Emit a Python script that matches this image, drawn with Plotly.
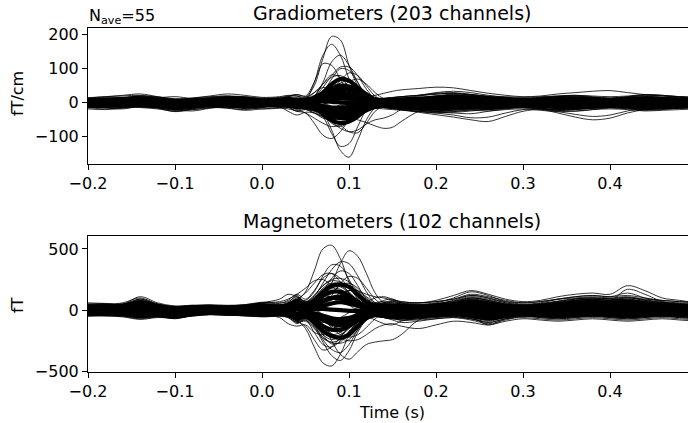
import plotly.graph_objects as go

# Time samples (s): coarse baseline, fine burst, coarse late
T = [-0.20, -0.18, -0.16, -0.14, -0.12, -0.10, -0.08, -0.06, -0.04, -0.02, 0.00, 0.02,
     0.03, 0.04, 0.05, 0.06, 0.07, 0.08, 0.09, 0.10, 0.11, 0.12, 0.13, 0.14, 0.15, 0.16,
     0.18, 0.20, 0.22, 0.24, 0.26, 0.28, 0.30, 0.32, 0.34, 0.36, 0.38, 0.40, 0.42, 0.44, 0.46, 0.48, 0.50]

X_TICKS = [-0.2, -0.1, 0.0, 0.1, 0.2, 0.3, 0.4]
X_TICKTEXT = ["\u22120.2", "\u22120.1", "0.0", "0.1", "0.2", "0.3", "0.4"]
GRAD_TICKS = [-100, 0, 100, 200]
GRAD_TICKTEXT = ["\u2212100", "0", "100", "200"]
MAG_TICKS = [-500, 0, 500]
MAG_TICKTEXT = ["\u2212500", "0", "500"]

# Gradiometer channels (fT/cm), representative traces
g01 = [8,12,15,18,10,5,8,12,6,2,4,10, 12,8,15,30,45,40,25,10,2,-2,0,4,6,8, 12,18,20,15,10,8,6,10,12,8,5,6,10,8,5,6,4]
g02 = [-6,-10,-8,-12,-15,-22,-14,-8,-10,-14,-6,-4, -8,-15,-10,-20,-35,-42,-30,-15,-5,0,-4,-8,-10,-12, -15,-18,-12,-10,-14,-8,-5,-10,-14,-12,-8,-6,-10,-8,-12,-10,-8]
g03 = [2,5,8,12,6,0,-2,4,8,5,0,3, 6,4,2,10,20,28,22,12,6,2,0,-2,0,2, 6,10,14,12,6,2,0,3,6,8,4,2,5,8,6,3,2]
g04 = [-2,-4,0,4,-5,-12,-8,-2,0,-6,-3,0, -4,-10,-6,-8,-15,-25,-28,-20,-8,-2,0,-3,-6,-4, -6,-10,-14,-18,-12,-6,-2,-5,-8,-10,-6,-3,-5,-8,-6,-4,-2]
g05 = [12,15,10,6,14,18,12,8,15,18,10,6, 4,2,8,20,35,50,55,40,20,8,2,4,8,12, 20,25,28,22,15,12,10,14,18,15,10,12,18,20,15,12,10]
g06 = [-12,-15,-18,-10,-8,-14,-20,-15,-12,-8,-10,-14, -18,-22,-15,-25,-40,-55,-60,-48,-30,-15,-8,-10,-14,-16, -20,-25,-28,-24,-20,-15,-12,-16,-20,-18,-14,-10,-14,-18,-16,-12,-10]
g07 = [5,2,-2,0,6,10,6,0,-4,0,6,8, 10,14,12,6,0,-10,-18,-22,-15,-5,2,6,8,6, 4,2,0,-4,-2,2,6,4,0,-2,2,6,4,0,2,4,6]
g08 = [-4,0,4,8,2,-4,-2,2,4,0,-4,-8, -12,-16,-8,4,15,22,18,10,4,0,-2,0,2,0, -2,-4,-2,2,4,0,-4,-2,2,4,0,-2,2,4,2,0,-2]
g09 = [15,18,20,22,16,10,12,16,20,14,8,12, 16,10,6,12,25,35,40,35,25,15,10,12,15,18, 22,28,30,25,18,14,12,15,18,20,16,12,16,22,20,16,12]
g10 = [-15,-12,-10,-14,-18,-25,-18,-12,-15,-20,-14,-10, -12,-25,-20,-30,-45,-50,-45,-35,-22,-12,-10,-14,-18,-20, -25,-28,-30,-32,-25,-18,-14,-18,-22,-25,-20,-15,-18,-22,-20,-16,-14]
g11 = [0,3,6,10,4,-2,0,5,10,8,2,0, -2,-4,0,8,14,10,4,-4,-8,-6,-2,2,4,2, 0,4,8,6,2,0,-2,0,4,6,2,0,2,4,2,0,0]
g12 = [8,6,4,8,12,6,2,6,10,14,8,4, 2,0,-4,-10,-18,-15,-6,4,10,8,4,2,4,6, 8,10,12,10,8,6,4,6,8,10,8,6,8,10,8,6,4]
g13 = [-8,-5,-2,2,-4,-10,-12,-6,-2,-4,-8,-6, -4,-2,-6,-14,-25,-32,-25,-12,-4,0,-2,-4,-6,-8, -10,-12,-8,-6,-10,-12,-8,-6,-10,-14,-12,-8,-6,-8,-10,-8,-6]
g14 = [4,8,10,14,8,2,4,10,14,10,4,2, 0,4,10,22,30,25,12,2,-2,0,2,4,6,8, 10,12,16,14,10,8,6,8,10,12,10,8,10,12,10,8,6]
g15 = [-10,-8,-6,-8,-12,-18,-15,-10,-8,-12,-10,-8, -6,-4,-10,-20,-28,-22,-10,-2,2,-2,-6,-10,-12,-14, -18,-22,-25,-20,-16,-12,-10,-12,-16,-18,-14,-10,-12,-16,-14,-12,-10]
g16 = [10,8,12,16,12,8,10,14,18,16,12,14, 18,20,14,10,20,30,36,30,20,12,8,10,12,14, 16,20,24,22,18,15,12,14,18,20,16,14,16,18,16,14,12]
g17 = [-2,-6,-8,-4,-8,-14,-10,-4,-6,-10,-6,-2, 0,-4,-8,-16,-10,8,20,25,18,8,2,0,-2,-4, -6,-8,-6,-4,-6,-8,-6,-4,-6,-8,-6,-4,-6,-8,-6,-4,-2]
g18 = [6,10,14,20,14,6,8,12,16,12,6,8, 10,6,4,2,-6,-15,-20,-15,-8,-2,2,4,6,8, 10,14,18,16,12,10,8,10,12,14,12,10,12,14,12,10,8]
g19 = [-14,-18,-14,-10,-14,-20,-24,-16,-10,-14,-18,-16, -14,-10,-18,-30,-38,-35,-25,-14,-8,-6,-10,-14,-16,-18, -22,-26,-22,-18,-20,-16,-14,-18,-22,-20,-16,-14,-16,-20,-18,-16,-14]
g20 = [12,14,16,20,18,12,14,18,20,18,14,16, 20,24,18,12,6,2,8,16,20,16,12,14,16,18, 22,26,28,24,20,18,16,18,20,22,20,18,20,24,22,18,16]
g21 = [0,-2,-4,-2,2,0,-4,-6,-2,2,0,-2, -4,-8,-4,6,12,18,14,6,0,-4,-4,-2,0,-2, -4,-2,0,2,0,-2,-4,-2,0,2,0,-2,0,2,0,-2,0]
g22 = [-18,-20,-16,-12,-16,-26,-20,-14,-16,-22,-18,-14, -12,-16,-20,-24,-30,-34,-30,-22,-16,-14,-16,-18,-20,-22, -26,-30,-26,-22,-24,-20,-18,-22,-26,-24,-20,-18,-20,-24,-22,-20,-18]
g23 = [14,18,22,26,18,10,14,20,26,22,16,18, 22,20,12,30,55,75,80,65,40,20,10,12,15,18, 22,30,34,30,22,16,14,16,20,22,18,14,18,24,22,18,14]
g24 = [-6,-8,-10,-12,-10,-16,-12,-8,-10,-14,-10,-8, -10,-20,-30,-45,-60,-70,-65,-50,-30,-15,-8,-6,-8,-10, -12,-15,-12,-10,-12,-10,-8,-10,-12,-14,-12,-10,-12,-14,-12,-10,-8]
g25 = [4,6,8,12,8,2,4,8,12,10,6,8, 10,12,15,50,130,195,185,110,50,15,2,-2,2,6, 10,14,16,12,8,6,4,6,8,10,8,6,8,10,8,6,4]
g26 = [-2,0,4,8,4,-2,0,4,6,2,0,4, 8,14,10,60,140,172,140,70,20,0,-6,-4,0,2, 4,6,8,6,4,2,0,2,4,6,4,2,4,6,4,2,0]
g27 = [6,8,10,14,10,4,6,10,14,12,8,10, 12,10,8,20,60,120,140,110,60,20,8,6,8,10, 14,18,22,20,14,10,8,10,14,16,12,10,12,16,14,12,10]
g28 = [2,4,6,10,6,0,2,6,10,8,4,6, 18,24,20,60,115,110,70,30,10,2,0,2,4,6, 8,10,12,10,6,4,2,4,6,8,6,4,6,8,6,4,2]
g29 = [10,12,14,16,12,6,8,12,16,14,10,12, 14,12,10,14,30,70,100,95,60,20,6,4,6,8, 12,16,20,18,12,8,6,8,12,14,10,8,10,14,12,10,8]
g30 = [-4,-2,2,6,2,-4,-2,2,4,0,-2,0, 2,4,6,20,55,82,75,45,15,0,-4,-6,-4,-2, 0,2,4,2,0,-2,-4,-2,0,2,0,-2,0,2,0,-2,-4]
g31 = [8,10,12,14,10,4,6,10,12,10,6,8, 10,8,6,10,20,40,58,65,50,25,10,6,8,10, 14,20,26,24,18,12,10,12,16,18,14,12,14,18,16,14,12]
g32 = [10,12,14,18,14,8,10,14,18,16,12,14, 16,14,12,18,30,45,50,40,28,20,22,28,34,38, 42,46,44,36,28,22,18,20,26,30,34,36,30,24,20,18,16]
g33 = [-6,-8,-10,-6,-10,-16,-12,-6,-8,-12,-8,-6, -4,-8,-4,-10,-30,-80,-140,-160,-110,-50,-15,-6,-8,-10, -12,-14,-12,-10,-12,-10,-8,-10,-12,-14,-12,-10,-12,-14,-12,-10,-8]
g34 = [2,0,-2,2,-4,-10,-6,0,-2,-6,-2,0, -2,-6,-4,-15,-40,-90,-128,-120,-70,-20,0,2,0,-2, -4,-6,-4,-2,-4,-2,0,-2,-4,-6,-4,-2,-4,-6,-4,-2,0]
g35 = [-10,-12,-14,-10,-14,-22,-16,-10,-12,-16,-12,-10, -14,-25,-30,-60,-95,-105,-85,-50,-25,-14,-10,-12,-14,-16, -20,-24,-20,-16,-18,-14,-12,-16,-20,-18,-14,-12,-14,-18,-16,-14,-12]
g36 = [-4,-6,-8,-4,-8,-14,-10,-4,-6,-10,-6,-4, -6,-10,-8,-15,-22,-25,-32,-42,-50,-58,-68,-75,-72,-55, -25,-14,-10,-8,-10,-8,-6,-8,-10,-12,-10,-8,-10,-12,-10,-8,-6]
g37 = [0,-2,-4,0,-4,-10,-8,-2,-4,-8,-4,-2, -6,-12,-8,-15,-30,-55,-75,-85,-80,-62,-50,-45,-35,-20, -8,-4,-2,0,-2,0,2,0,-2,-4,-2,0,-2,-4,-2,0,2]
g38 = [-8,-10,-12,-8,-12,-20,-14,-8,-10,-14,-10,-12, -25,-36,-28,-30,-42,-50,-40,-25,-15,-10,-12,-14,-16,-18, -22,-25,-22,-18,-20,-16,-14,-18,-22,-20,-16,-14,-16,-20,-18,-16,-14]
g39 = [-10,-12,-10,-8,-12,-18,-14,-10,-12,-16,-12,-10, -12,-14,-10,-8,-5,10,25,30,20,5,-5,-10,-15,-20, -28,-35,-42,-50,-55,-40,-25,-20,-30,-42,-50,-45,-30,-20,-16,-14,-12]
g40 = [-6,-8,-6,-4,-8,-14,-10,-6,-8,-12,-8,-6, -8,-10,-12,-20,-35,-45,-40,-30,-20,-12,-10,-12,-16,-20, -25,-30,-36,-44,-42,-30,-20,-18,-26,-34,-40,-36,-24,-16,-12,-10,-8]
g41 = [6,8,10,12,8,2,4,8,10,8,4,6, 8,6,4,6,15,35,65,88,80,50,20,8,6,8, 10,14,18,16,12,8,6,8,10,12,10,8,10,12,10,8,6]
g42 = [-2,0,2,6,2,-4,-2,2,4,2,0,2, 4,6,10,20,45,80,105,105,80,40,12,2,0,0, 2,4,6,4,2,0,-2,0,2,4,2,0,2,4,2,0,-2]
g43 = [-4,-6,-8,-4,-8,-14,-10,-4,-6,-10,-6,-4, -6,-8,-6,-10,-20,-40,-65,-85,-88,-60,-25,-10,-6,-6, -8,-10,-8,-6,-8,-6,-4,-6,-8,-10,-8,-6,-8,-10,-8,-6,-4]
g44 = [2,0,-2,2,-2,-8,-4,0,-2,-4,-2,0, -2,-4,-2,-10,-30,-60,-70,-55,-30,-10,-2,0,0,0, -2,-4,-2,0,-2,0,2,0,-2,-4,-2,0,-2,-4,-2,0,2]
g45 = [4,6,8,10,6,0,2,6,8,6,2,4, 6,4,2,4,10,25,45,62,70,55,30,12,6,6, 8,12,16,14,10,6,4,6,8,10,8,6,8,10,8,6,4]

GRAD = [g01, g02, g03, g04, g05, g06, g07, g08, g09, g10, g11, g12, g13, g14, g15, g16, g17, g18, g19, g20,
        g21, g22, g23, g24, g25, g26, g27, g28, g29, g30, g31, g32, g33, g34, g35, g36, g37, g38, g39, g40,
        g41, g42, g43, g44, g45]

# Dense core of the gradiometer bundle (many overlapping channels near zero)
c1 = [3,5,6,8,4,-2,0,4,6,3,1,4, 6,4,6,12,20,28,30,26,18,10,4,2,3,4, 5,8,10,8,5,3,2,4,5,6,4,3,5,6,5,3,2]
c2 = [-3,-4,-2,-5,-6,-10,-6,-3,-4,-7,-4,-2, -4,-8,-6,-12,-18,-26,-30,-28,-20,-12,-6,-4,-5,-6, -8,-10,-9,-8,-7,-5,-4,-6,-8,-7,-5,-4,-5,-7,-6,-5,-4]
c3 = [8,9,10,12,9,5,6,9,12,9,6,8, 10,8,8,12,25,42,50,48,38,22,10,8,9,10, 12,15,18,15,12,10,8,9,11,12,10,8,10,12,11,9,8]
c4 = [-8,-9,-8,-6,-9,-14,-11,-7,-8,-11,-8,-7, -8,-12,-12,-18,-28,-40,-45,-45,-35,-22,-12,-9,-10,-12, -14,-16,-14,-12,-12,-10,-8,-10,-12,-13,-11,-9,-10,-12,-11,-10,-9]
c5 = [0,1,2,4,1,-3,-2,1,3,1,-1,0, 0,-2,0,4,10,14,14,12,8,3,0,0,1,1, 2,4,5,4,2,1,0,1,2,3,2,1,2,3,2,1,0]
c6 = [-1,-2,-3,-1,-3,-6,-5,-2,-2,-4,-2,-1, -2,-4,-3,-6,-10,-14,-14,-12,-8,-4,-1,-2,-3,-3, -4,-5,-4,-3,-4,-3,-2,-3,-4,-5,-4,-3,-3,-4,-3,-3,-2]
c7 = [5,6,7,10,7,3,4,7,9,7,4,5, 7,5,6,12,30,55,70,65,45,25,10,5,6,7, 9,12,14,12,9,7,5,7,9,10,8,6,8,9,8,6,5]
c8 = [-5,-6,-5,-3,-6,-10,-8,-4,-5,-8,-5,-4, -5,-8,-8,-14,-32,-52,-60,-55,-40,-20,-8,-6,-7,-8, -10,-12,-10,-9,-9,-7,-5,-7,-9,-10,-8,-6,-7,-9,-8,-7,-6]
c9 = [1,0,-1,2,0,-4,-3,0,2,0,-1,1, 2,0,1,2,4,3,1,-1,-2,-1,0,1,1,0, 1,2,2,1,0,-1,-1,0,1,1,0,-1,0,1,0,0,0]
c10 = [4,5,6,9,5,0,2,5,8,5,2,4, 5,3,4,10,22,35,40,38,30,18,8,4,5,6, 7,10,12,10,7,5,3,5,7,8,6,5,6,7,6,4,3]
c11 = [-4,-5,-4,-2,-5,-9,-7,-3,-4,-6,-4,-3, -4,-6,-7,-14,-24,-34,-38,-36,-28,-16,-8,-5,-6,-7, -9,-11,-9,-8,-8,-6,-4,-6,-8,-9,-7,-5,-6,-8,-7,-6,-5]
c12 = [6,7,8,10,7,2,3,6,9,6,3,5, 6,4,5,9,15,20,24,22,16,8,3,3,4,5, 6,9,12,10,7,5,4,5,7,8,6,4,6,8,7,5,4]
c13 = [-6,-7,-5,-3,-7,-12,-9,-5,-6,-9,-6,-5, -6,-9,-8,-10,-15,-20,-22,-20,-16,-10,-6,-6,-7,-8, -11,-13,-11,-10,-9,-8,-6,-8,-10,-11,-9,-7,-8,-10,-9,-8,-7]
GRAD_CORE = [c1, c2, c3, c4, c5, c6, c7, c8, c9, c10, c11, c12, c13]

# Magnetometer channels (fT), representative traces
m01 = [40,45,60,100,50,20,30,35,25,30,50,40, 60,120,60,100,180,220,200,150,80,40,30,40,60,50, 40,50,80,120,100,60,40,50,70,90,100,90,80,70,60,50,40]
m02 = [-30,-35,-40,-60,-45,-55,-30,-20,-25,-30,-40,-30, -40,-90,-60,-120,-200,-240,-210,-150,-80,-40,-30,-40,-60,-80, -70,-60,-50,-70,-90,-60,-40,-50,-60,-50,-40,-50,-60,-50,-40,-50,-60]
m03 = [10,15,20,50,20,-10,0,10,5,10,20,15, 30,60,40,60,100,140,160,130,80,40,20,30,40,30, 20,30,50,80,60,30,20,30,50,60,70,60,80,60,40,30,20]
m04 = [-10,-5,0,-30,-20,-45,-25,-10,-15,-20,-15,-10, -20,-60,-40,-50,-80,-120,-140,-120,-70,-30,-20,-30,-40,-50, -40,-30,-20,-40,-60,-40,-20,-30,-40,-30,-20,-30,-40,-30,-20,-30,-40]
m05 = [50,55,50,110,60,35,40,30,35,40,60,55, 80,130,90,160,260,300,260,190,110,60,40,50,70,60, 50,60,100,150,120,70,50,60,90,110,120,110,140,100,70,60,50]
m06 = [-40,-45,-55,-75,-60,-65,-40,-30,-35,-40,-50,-45, -60,-110,-80,-180,-280,-300,-250,-170,-100,-60,-50,-60,-80,-100, -90,-70,-60,-80,-110,-80,-50,-60,-70,-60,-50,-60,-70,-60,-50,-60,-70]
m07 = [20,25,30,70,30,5,15,20,15,20,35,25, 40,80,50,30,40,80,120,160,140,90,50,40,30,30, 30,40,60,90,70,40,30,40,60,80,90,80,100,80,60,40,30]
m08 = [0,5,10,-20,-10,-30,-15,0,-5,-10,-5,0, -10,-40,-20,-40,-120,-160,-120,-60,-20,0,10,0,-10,-20, -20,-10,0,-20,-40,-20,0,-10,-20,-10,0,-10,-20,-10,0,-10,-20]
m09 = [30,35,40,80,40,10,25,30,20,25,40,30, 50,100,70,80,120,100,60,40,30,30,50,80,90,60, 40,50,70,100,80,50,30,40,60,80,90,80,90,70,50,40,30]
m10 = [-20,-25,-30,-50,-35,-60,-35,-20,-25,-30,-30,-20, -30,-70,-50,-70,-100,-80,-60,-50,-40,-50,-80,-110,-120,-90, -60,-50,-40,-60,-80,-60,-40,-50,-60,-50,-40,-50,-60,-50,-40,-50,-60]
m11 = [60,55,50,90,50,30,40,45,40,45,65,60, 70,110,70,120,200,240,230,180,100,60,50,60,70,60, 60,70,90,130,110,80,60,70,90,100,110,100,110,90,80,70,60]
m12 = [-50,-45,-40,-55,-50,-70,-45,-35,-40,-45,-55,-50, -60,-100,-90,-150,-230,-260,-240,-180,-110,-60,-50,-60,-70,-80, -80,-70,-60,-70,-100,-70,-60,-70,-80,-70,-60,-70,-80,-70,-60,-70,-80]
m13 = [0,5,10,40,10,-15,-5,5,0,5,15,10, 20,50,30,60,140,180,170,120,60,20,10,20,30,20, 10,20,40,70,50,20,10,20,40,50,60,50,60,40,20,10,0]
m14 = [-15,-10,-5,-25,-15,-40,-20,-5,-10,-15,-10,-5, -15,-50,-30,-20,-40,-100,-180,-200,-150,-80,-40,-30,-20,-30, -30,-20,-10,-30,-50,-30,-10,-20,-30,-20,-10,-20,-30,-20,-10,-20,-30]
m15 = [45,40,35,60,40,25,30,35,30,35,50,45, 55,90,60,20,-40,-80,-60,-20,20,50,60,70,60,50, 45,55,75,110,90,60,45,55,75,95,100,95,105,85,65,55,45]
m16 = [-35,-30,-25,-40,-35,-55,-35,-25,-30,-35,-40,-35, -45,-80,-50,0,60,100,80,40,0,-30,-50,-60,-50,-50, -55,-45,-35,-55,-80,-55,-35,-45,-55,-45,-35,-45,-55,-45,-35,-45,-55]
m17 = [25,30,35,60,35,15,20,25,20,25,35,30, 40,70,50,90,160,200,190,140,80,40,30,35,45,40, 30,40,60,90,70,40,30,40,60,80,90,80,85,70,50,40,30]
m18 = [-25,-20,-15,-45,-30,-50,-30,-15,-20,-25,-25,-20, -30,-70,-40,-100,-170,-210,-200,-140,-80,-40,-30,-40,-50,-60, -50,-40,-30,-50,-70,-50,-30,-40,-50,-40,-30,-40,-50,-40,-30,-40,-50]
m19 = [15,20,25,55,25,0,10,15,10,15,25,20, 30,60,40,50,80,140,200,220,180,100,50,40,30,30, 20,30,50,70,50,30,20,30,50,70,80,70,75,55,40,30,20]
m20 = [-5,0,5,-15,-5,-25,-10,0,-5,-10,-5,0, -10,-30,-20,-60,-150,-200,-180,-120,-60,-20,0,-10,-20,-30, -20,-10,0,-20,-40,-20,0,-10,-20,-10,0,-10,-20,-10,0,-10,-20]
m21 = [30,35,40,70,40,10,20,25,20,25,40,30, 40,80,150,320,500,530,420,230,90,30,20,30,40,35, 30,40,60,80,60,40,30,40,50,60,70,60,70,55,40,30,30]
m22 = [10,15,20,50,20,-10,0,10,5,10,20,15, 20,40,30,40,100,220,380,485,440,300,140,60,40,30, 20,30,50,70,50,30,20,30,50,70,80,70,80,60,40,30,20]
m23 = [40,45,50,80,50,25,35,40,35,40,55,45, 60,90,80,150,280,370,360,250,120,60,50,60,80,70, 60,80,120,160,130,90,70,80,110,130,140,130,200,160,100,80,60]
m24 = [20,25,30,60,30,0,10,20,15,20,30,25, 35,60,40,60,150,260,320,300,200,90,40,30,35,30, 25,35,55,80,60,35,25,35,55,70,80,75,170,130,70,40,25]
m25 = [50,45,40,70,45,30,35,40,35,45,60,70, 90,130,180,240,250,200,130,80,60,70,100,110,90,70, 60,70,90,120,100,70,60,70,90,110,120,110,120,100,80,70,60]
m26 = [0,5,10,30,10,-20,-10,0,-5,0,10,5, 10,30,20,30,60,120,220,275,260,180,90,40,20,10, 0,10,30,60,40,20,10,20,40,60,70,60,70,50,30,20,10]
m27 = [35,30,25,50,30,20,25,30,25,30,40,35, 45,80,50,70,120,180,200,190,160,130,110,100,80,50, 40,50,70,100,80,50,40,50,70,90,100,90,100,80,60,50,40]
m28 = [-20,-25,-30,-60,-40,-50,-30,-20,-25,-30,-30,-25, -30,-80,-150,-300,-430,-455,-360,-200,-80,-30,-20,-30,-40,-50, -40,-30,-20,-40,-60,-40,-20,-30,-40,-30,-20,-30,-40,-30,-20,-30,-40]
m29 = [-40,-45,-50,-70,-55,-65,-45,-35,-40,-45,-50,-45, -50,-90,-80,-140,-260,-370,-410,-330,-180,-80,-50,-60,-70,-80, -70,-60,-50,-70,-100,-70,-50,-60,-70,-60,-50,-60,-70,-60,-50,-60,-70]
m30 = [-10,-15,-20,-45,-25,-40,-20,-10,-15,-20,-15,-10, -20,-50,-40,-60,-120,-250,-360,-400,-340,-280,-260,-250,-240,-200, -80,-40,-20,-40,-60,-40,-20,-30,-40,-30,-20,-30,-40,-30,-20,-30,-40]
m31 = [-30,-35,-40,-55,-45,-60,-40,-30,-35,-40,-45,-40, -50,-90,-130,-240,-325,-300,-220,-140,-80,-50,-40,-50,-60,-70, -60,-50,-40,-60,-80,-60,-40,-50,-60,-50,-40,-50,-60,-50,-40,-50,-60]
m32 = [0,-5,-10,-35,-15,-30,-10,0,-5,-10,-5,0, -10,-40,-30,-80,-200,-275,-260,-180,-100,-50,-30,-30,-40,-50, -40,-30,-20,-40,-60,-40,-20,-30,-40,-30,-20,-30,-40,-30,-20,-30,-40]
m33 = [-45,-40,-35,-60,-50,-65,-45,-35,-40,-45,-50,-45, -55,-100,-70,-90,-140,-190,-230,-250,-240,-200,-150,-120,-110,-130, -150,-120,-90,-100,-120,-90,-70,-80,-90,-80,-70,-80,-90,-80,-70,-80,-90]
m34 = [-20,-15,-10,-40,-25,-45,-25,-15,-20,-25,-40,-60, -110,-130,-120,-180,-200,-160,-110,-70,-40,-30,-40,-60,-70,-60, -50,-40,-30,-50,-120,-70,-40,-50,-60,-50,-40,-50,-60,-50,-40,-50,-60]
m35 = [30,35,40,90,40,15,25,30,25,30,60,90, 130,110,60,20,-60,-130,-150,-110,-50,0,20,30,40,40, 30,40,60,100,80,50,30,40,60,80,90,80,90,70,50,40,30]
m36 = [20,25,30,60,30,5,15,20,15,20,30,25, 30,50,60,110,220,330,395,380,280,150,60,35,30,25, 20,30,50,70,50,30,20,30,50,65,75,70,80,60,40,30,20]
m37 = [-25,-30,-35,-55,-40,-55,-35,-25,-30,-35,-35,-30, -35,-70,-60,-120,-240,-320,-345,-280,-160,-70,-40,-45,-55,-60, -50,-40,-35,-50,-70,-50,-35,-45,-55,-45,-35,-45,-55,-45,-35,-45,-50]
m38 = [10,15,20,45,20,-5,5,10,5,10,20,30, 60,90,140,220,290,300,230,140,70,30,20,25,30,25, 20,25,45,70,50,25,15,25,45,55,65,60,65,50,35,25,20]
m39 = [-10,-12,-15,-35,-20,-35,-18,-8,-12,-15,-12,-10, -15,-40,-30,-40,-80,-140,-200,-220,-200,-140,-70,-30,-20,-20, -20,-15,-10,-20,-35,-20,-10,-15,-20,-15,-10,-15,-20,-15,-10,-15,-20]
m40 = [5,8,10,35,10,-10,0,5,2,5,10,8, 15,35,25,30,50,90,140,160,155,110,60,25,15,10, 8,12,25,45,30,15,8,12,25,35,40,35,40,30,20,12,8]
m41 = [25,28,30,55,30,10,18,22,18,22,30,28, 35,60,60,120,200,250,260,230,160,80,40,35,35,30, 25,30,45,65,50,30,25,30,45,55,60,55,60,45,35,30,25]
m42 = [-25,-28,-30,-45,-35,-45,-30,-20,-24,-28,-30,-26, -32,-60,-60,-130,-220,-265,-270,-240,-160,-80,-40,-40,-45,-50, -45,-35,-30,-40,-60,-40,-30,-35,-40,-35,-30,-35,-40,-35,-30,-35,-40]

MAG = [m01, m02, m03, m04, m05, m06, m07, m08, m09, m10, m11, m12, m13, m14, m15, m16, m17, m18,
       m19, m20, m21, m22, m23, m24, m25, m26, m27, m28, m29, m30, m31, m32, m33, m34, m35,
       m36, m37, m38, m39, m40, m41, m42]

# Dense core of the magnetometer bundle
d1 = [15,18,20,45,20,0,8,12,10,12,20,15, 25,45,30,60,120,150,150,120,70,30,15,18,20,18, 15,20,30,45,35,20,15,20,30,35,40,35,40,30,20,15,15]
d2 = [-15,-18,-20,-35,-25,-35,-20,-12,-15,-18,-18,-15, -20,-45,-35,-70,-130,-160,-160,-130,-80,-35,-18,-20,-25,-30, -25,-20,-15,-25,-40,-25,-15,-20,-25,-20,-15,-20,-25,-20,-15,-20,-25]
d3 = [0,2,5,20,5,-10,-4,2,0,2,5,3, 8,20,15,30,70,100,110,100,65,25,5,8,10,8, 5,8,15,25,18,8,5,8,15,20,22,20,22,15,8,5,3]
d4 = [-5,-4,-2,-15,-8,-22,-10,-3,-5,-8,-6,-4, -8,-25,-18,-35,-80,-110,-120,-110,-70,-25,-8,-10,-12,-15, -12,-8,-4,-12,-22,-12,-5,-8,-12,-8,-5,-8,-12,-8,-5,-8,-10]
d5 = [30,32,35,65,35,15,22,25,20,25,35,30, 40,70,50,80,150,200,210,190,130,65,40,40,40,35, 30,35,50,70,55,35,30,35,50,60,65,60,65,50,40,35,30]
d6 = [-30,-32,-35,-50,-40,-50,-35,-25,-28,-32,-35,-30, -38,-70,-55,-100,-170,-210,-225,-200,-130,-65,-40,-45,-50,-55, -50,-40,-35,-45,-65,-45,-35,-40,-45,-40,-35,-40,-45,-40,-35,-40,-45]
d7 = [8,10,12,30,12,-5,3,8,5,8,12,10, 15,30,20,20,35,55,65,55,35,15,10,12,14,12, 10,14,20,35,28,14,10,14,22,28,30,28,30,22,14,10,8]
d8 = [-8,-10,-12,-25,-15,-28,-15,-6,-10,-12,-10,-8, -12,-32,-22,-25,-45,-65,-75,-65,-40,-15,-10,-14,-18,-20, -16,-12,-8,-16,-30,-16,-8,-12,-16,-12,-8,-12,-16,-12,-8,-12,-14]
d9 = [5,3,2,10,0,-12,-6,0,-2,0,4,2, 5,10,5,8,10,5,0,-5,-5,0,2,3,4,3, 2,4,8,12,6,0,-2,2,6,8,10,8,10,6,3,2,0]
d10 = [20,22,25,50,25,5,12,18,14,16,25,20, 30,55,40,55,80,100,95,75,45,25,20,22,24,22, 20,25,38,55,42,25,20,25,38,45,50,45,50,38,28,22,20]
d11 = [-20,-22,-25,-40,-30,-40,-25,-15,-18,-22,-25,-22, -28,-55,-45,-55,-70,-90,-95,-80,-55,-30,-25,-30,-35,-40, -35,-28,-22,-32,-50,-32,-22,-28,-32,-28,-22,-28,-32,-28,-22,-28,-32]
MAG_CORE = [d1, d2, d3, d4, d5, d6, d7, d8, d9, d10, d11]

for i, s in enumerate(GRAD + GRAD_CORE + MAG + MAG_CORE):
    assert len(s) == len(T), (i, len(s))

W, H = 688, 423
FONT = "DejaVu Sans"
THIN = dict(color="black", width=0.8, shape="spline", smoothing=1.0)
THICK = dict(color="black", width=4.2, shape="spline", smoothing=1.0)

fig = go.Figure()
for group, line, xa, ya in [(GRAD_CORE, THICK, "x", "y"), (GRAD, THIN, "x", "y"),
                            (MAG_CORE, THICK, "x2", "y2"), (MAG, THIN, "x2", "y2")]:
    for s in group:
        fig.add_trace(go.Scatter(x=T, y=s, mode="lines", line=line, xaxis=xa, yaxis=ya,
                                 showlegend=False, hoverinfo="skip"))

def px_x(p):
    return p / W

def px_y(p):
    return 1 - p / H

axis_common = dict(showline=True, linecolor="black", linewidth=1.1, ticks="outside",
                   ticklen=5, tickwidth=1.1, tickcolor="black", showgrid=False,
                   zeroline=False, automargin=False,
                   tickfont=dict(family=FONT, size=16, color="black"))

XR = [-0.2, 0.4896]
fig.update_layout(
    width=W, height=H, margin=dict(l=0, r=0, t=0, b=0, pad=0, autoexpand=False),
    paper_bgcolor="white", plot_bgcolor="white",
    font=dict(family=FONT, color="black"),
    xaxis=dict(domain=[px_x(88), 1.0], range=XR, tickvals=X_TICKS, ticktext=X_TICKTEXT,
               anchor="y", mirror=True, **axis_common),
    yaxis=dict(domain=[px_y(164), px_y(28)], range=[-180, 220], tickvals=GRAD_TICKS,
               ticktext=GRAD_TICKTEXT, anchor="x", **axis_common),
    xaxis2=dict(domain=[px_x(88), 1.0], range=XR, tickvals=X_TICKS, ticktext=X_TICKTEXT,
                anchor="y2", mirror=True, **axis_common),
    yaxis2=dict(domain=[px_y(371.7), px_y(235.7)], range=[-502, 608], tickvals=MAG_TICKS,
                ticktext=MAG_TICKTEXT, anchor="x2", **axis_common),
)

ann = [
    dict(text="Gradiometers (203 channels)", x=px_x(392), y=px_y(13), size=19, angle=0, xa="center"),
    dict(text="Magnetometers (102 channels)", x=px_x(392), y=px_y(221), size=19, angle=0, xa="center"),
    dict(text="N<sub>ave</sub>=55", x=px_x(87), y=px_y(17), size=16, angle=0, xa="left"),
    dict(text="fT/cm", x=px_x(17), y=px_y(94), size=16, angle=-90, xa="center"),
    dict(text="fT", x=px_x(17), y=px_y(305), size=16, angle=-90, xa="center"),
    dict(text="Time (s)", x=px_x(392), y=px_y(412), size=16, angle=0, xa="center"),
]
for a in ann:
    fig.add_annotation(text=a["text"], x=a["x"], y=a["y"], xref="paper", yref="paper",
                       xanchor=a["xa"], yanchor="middle", showarrow=False, textangle=a["angle"],
                       font=dict(family=FONT, size=a["size"], color="black"))

fig.write_html("out.html")
